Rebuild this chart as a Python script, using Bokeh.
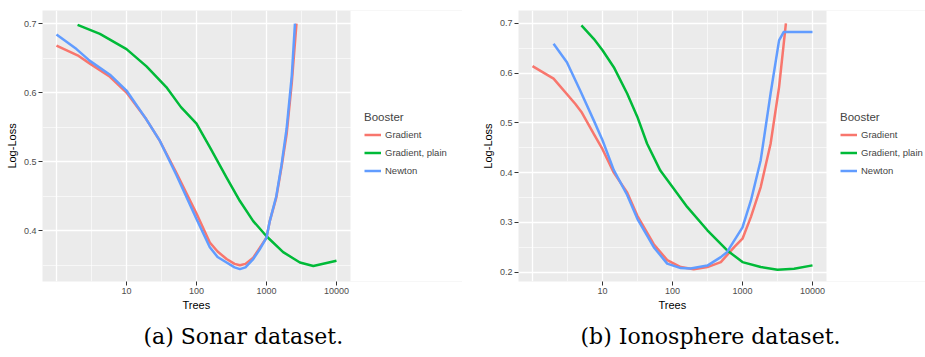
from bokeh.plotting import figure
from bokeh.layouts import row
from bokeh.models import (Range1d, FixedTicker, NumeralTickFormatter, Legend,
                          LegendItem, Title, BoxAnnotation)
from bokeh.embed import file_html
from bokeh.resources import INLINE

# ---------------- data ----------------
series_names = ["Gradient", "Gradient, plain", "Newton"]
series_colors = ["#F8766D", "#00BA38", "#619CFF"]

# Sonar dataset
sonar_grad_x = [1, 2, 3, 5.8, 10, 19, 30, 52, 100, 155, 200, 269, 350, 417, 500,
                646, 800, 1000, 1114, 1380, 1637, 1940, 2300, 2680]
sonar_grad_y = [0.668, 0.654, 0.642, 0.623, 0.600, 0.562, 0.530, 0.483, 0.425, 0.383,
                0.370, 0.359, 0.352, 0.350, 0.352, 0.361, 0.375, 0.390, 0.414, 0.448,
                0.492, 0.540, 0.615, 0.700]
sonar_plain_x = [2, 4.17, 10, 19.3, 37, 60, 100, 155, 269, 417, 646, 1000, 1730,
                 3000, 4660, 10000]
sonar_plain_y = [0.698, 0.685, 0.663, 0.638, 0.608, 0.579, 0.555, 0.521, 0.477, 0.443,
                 0.414, 0.392, 0.369, 0.354, 0.349, 0.3565]
sonar_newton_x = [1, 1.93, 3, 5.8, 10, 19, 30, 52, 100, 155, 200, 269, 350, 417, 500,
                  646, 800, 1000, 1114, 1380, 1637, 1940, 2300, 2550]
sonar_newton_y = [0.684, 0.663, 0.646, 0.626, 0.603, 0.562, 0.530, 0.480, 0.417, 0.376,
                  0.362, 0.354, 0.347, 0.3445, 0.347, 0.359, 0.373, 0.390, 0.414, 0.450,
                  0.495, 0.548, 0.625, 0.700]

# Ionosphere dataset
iono_grad_x = [1, 2, 4.1, 5, 7.5, 10, 14.5, 22.5, 31.5, 54, 84, 131, 201, 315, 490,
               760, 1000, 1320, 1820, 2520, 3330, 4170]
iono_grad_y = [0.614, 0.589, 0.538, 0.522, 0.478, 0.447, 0.400, 0.360, 0.313, 0.256,
               0.224, 0.210, 0.2055, 0.210, 0.220, 0.250, 0.267, 0.311, 0.371, 0.458,
               0.572, 0.700]
iono_plain_x = [5, 7.5, 10, 14.5, 22.5, 31.5, 43.4, 67, 100, 162, 315, 600, 1000,
                1820, 3160, 5460, 10000]
iono_plain_y = [0.696, 0.669, 0.646, 0.612, 0.559, 0.512, 0.458, 0.404, 0.371, 0.331,
                0.284, 0.244, 0.220, 0.210, 0.2047, 0.2067, 0.2134]
iono_newton_x = [2, 3.1, 4.8, 7.5, 10, 14.5, 22.5, 31.5, 54, 84, 131, 181, 315, 490,
                 600, 1000, 1320, 1820, 2520, 3330, 3870, 10000]
iono_newton_y = [0.659, 0.622, 0.565, 0.505, 0.465, 0.405, 0.355, 0.307, 0.250, 0.217,
                 0.208, 0.207, 0.213, 0.230, 0.240, 0.290, 0.344, 0.425, 0.559, 0.666,
                 0.6826, 0.6826]

x_tick_values = [10, 100, 1000, 10000]
x_grid_major = [1, 10, 100, 1000, 10000]
x_grid_minor = [10 ** 0.5, 10 ** 1.5, 10 ** 2.5, 10 ** 3.5]

sonar_y_ticks = [0.4, 0.5, 0.6, 0.7]
sonar_y_minor = [0.35, 0.45, 0.55, 0.65]
iono_y_ticks = [0.2, 0.3, 0.4, 0.5, 0.6, 0.7]
iono_y_minor = [0.25, 0.35, 0.45, 0.55, 0.65]

captions = ["(a) Sonar dataset.", "(b) Ionosphere dataset."]

SANS = "Liberation Sans"
PANEL_W = 308          # width of the grey panel in px
LOG_LO, LOG_HI = -0.2, 4.2   # panel extent in log10(Trees)


def make_panel(left, frame_w, series, y_range, y_ticks, y_minor, caption,
               cap_offset, trees_offset):
    log_end = LOG_LO + frame_w * (LOG_HI - LOG_LO) / PANEL_W
    p = figure(frame_width=frame_w, frame_height=271, x_axis_type="log",
               x_range=Range1d(10 ** LOG_LO, 10 ** log_end),
               y_range=Range1d(*y_range),
               output_backend="svg", toolbar_location=None,
               min_border_left=left, min_border_right=0,
               min_border_top=10, min_border_bottom=76)
    p.background_fill_color = "#EBEBEB"
    p.border_fill_color = "white"
    p.outline_line_color = None

    # grid
    p.xgrid.ticker = FixedTicker(ticks=x_grid_major, minor_ticks=x_grid_minor)
    p.ygrid.ticker = FixedTicker(ticks=y_ticks, minor_ticks=y_minor)
    for g in (p.xgrid, p.ygrid):
        g.grid_line_color = "white"
        g.grid_line_width = 1.3
        g.minor_grid_line_color = "white"
        g.minor_grid_line_width = 0.6

    # white area to the right of the grey panel (legend area)
    p.add_layout(BoxAnnotation(left=10 ** LOG_HI, fill_color="white", fill_alpha=1,
                               line_color=None, level="underlay"))

    # axes
    p.xaxis.ticker = FixedTicker(ticks=x_tick_values)
    p.xaxis.formatter = NumeralTickFormatter(format="0")
    p.yaxis.ticker = FixedTicker(ticks=y_ticks)
    p.yaxis.formatter = NumeralTickFormatter(format="0.0")
    p.yaxis.axis_label = "Log-Loss"
    for ax in (p.xaxis, p.yaxis):
        ax.axis_line_color = None
        ax.major_tick_line_color = "#333333"
        ax.major_tick_line_width = 1
        ax.major_tick_out = 4
        ax.major_tick_in = 0
        ax.minor_tick_line_color = None
        ax.major_label_text_font = SANS
        ax.major_label_text_font_size = "9px"
        ax.major_label_text_color = "#4D4D4D"
        ax.major_label_standoff = 2
        ax.axis_label_text_font = SANS
        ax.axis_label_text_font_size = "11px"
        ax.axis_label_text_font_style = "normal"
        ax.axis_label_text_color = "black"
    p.yaxis.axis_label_standoff = 3

    items = []
    for (xs, ys), name, col in zip(series, series_names, series_colors):
        r = p.line(xs, ys, line_color=col, line_width=2.5, line_join="round")
        items.append(LegendItem(label=name, renderers=[r]))

    legend = Legend(items=items, title="Booster", location=(PANEL_W + 14, 102))
    legend.title_text_font = SANS
    legend.title_text_font_size = "11.5px"
    legend.title_text_font_style = "normal"
    legend.title_standoff = 3
    legend.label_text_font = SANS
    legend.label_text_font_size = "9.5px"
    legend.glyph_width = 17
    legend.glyph_height = 17
    legend.label_standoff = 4
    legend.spacing = 1
    legend.padding = 10
    legend.margin = 0
    legend.border_line_color = None
    legend.background_fill_alpha = 0
    p.add_layout(legend, "center")

    trees = Title(text="Trees", align="left", offset=trees_offset, standoff=0,
                  text_font=SANS, text_font_size="11px",
                  text_font_style="normal", text_color="black")
    p.add_layout(trees, "below")
    cap = Title(text=caption, align="left", offset=cap_offset, standoff=22,
                text_font="DejaVu Serif", text_font_size="22px",
                text_font_style="normal", text_color="black")
    p.add_layout(cap, "below")
    return p


p1 = make_panel(42, 420,
                [(sonar_grad_x, sonar_grad_y), (sonar_plain_x, sonar_plain_y),
                 (sonar_newton_x, sonar_newton_y)],
                (0.3265, 0.7189), sonar_y_ticks, sonar_y_minor, captions[0], 101, 140)
p2 = make_panel(56, 407,
                [(iono_grad_x, iono_grad_y), (iono_plain_x, iono_plain_y),
                 (iono_newton_x, iono_newton_y)],
                (0.181, 0.726), iono_y_ticks, iono_y_minor, captions[1], 62, 140)

layout = row(p1, p2)
open("out.html", "w").write(file_html(layout, INLINE))
